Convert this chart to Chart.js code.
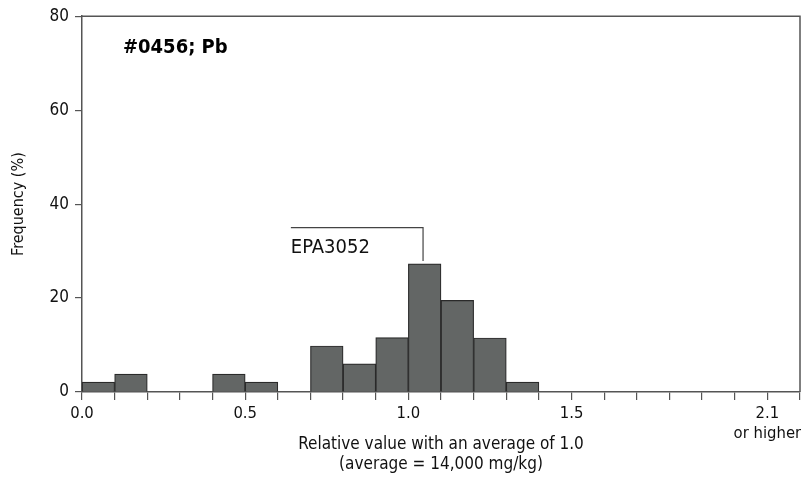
<!DOCTYPE html>
<html>
<head>
<meta charset="utf-8">
<script src="https://cdn.jsdelivr.net/npm/chart.js@4"></script>
<style>
  html, body { margin: 0; padding: 0; background: #fff; }
  #wrap { width: 801px; height: 483px; position: relative; }
</style>
</head>
<body>
<div id="wrap"><canvas id="chart"></canvas></div>
<script>
// bin centres (relative value, bins of 0.1) and frequency in %
const binCenters = [0.05, 0.15, 0.25, 0.35, 0.45, 0.55, 0.65, 0.75, 0.85, 0.95, 1.05, 1.15, 1.25, 1.35];
const frequency  = [2.1, 3.8, 0, 0, 3.8, 2.1, 0, 9.8, 6.0, 11.6, 27.3, 19.5, 11.5, 2.1];
const xLabelValues = [0.0, 0.5, 1.0, 1.5, 2.1];
const yTicks = [0, 20, 40, 60, 80];
const chartTitle = "#0456; Pb";
const methodLabel = "EPA3052";
const methodArrow = { xFrom: 0.64, xTo: 1.045, y: 35, yEnd: 27.9 };

const FONT = "'Liberation Sans Narrow', 'DejaVu Sans Condensed', sans-serif";
const AXIS = "#555";

const frame = {
  id: "frame",
  afterDraw(chart) {
    const { ctx, chartArea: a, scales } = chart;
    ctx.save();
    ctx.strokeStyle = AXIS;
    ctx.lineWidth = 1.5;
    ctx.beginPath();
    ctx.moveTo(a.left, a.top);
    ctx.lineTo(a.right, a.top);
    ctx.lineTo(a.right, a.bottom);
    ctx.stroke();

    // title
    ctx.fillStyle = "#000";
    ctx.font = "bold 20px " + FONT;
    ctx.textBaseline = "alphabetic";
    ctx.fillText(chartTitle, 123, 53);

    // method annotation
    const x = scales.x, y = scales.y;
    ctx.strokeStyle = "#444";
    ctx.lineWidth = 1.2;
    ctx.beginPath();
    ctx.moveTo(x.getPixelForValue(methodArrow.xFrom), y.getPixelForValue(methodArrow.y));
    ctx.lineTo(x.getPixelForValue(methodArrow.xTo), y.getPixelForValue(methodArrow.y));
    ctx.lineTo(x.getPixelForValue(methodArrow.xTo), y.getPixelForValue(methodArrow.yEnd));
    ctx.stroke();
    ctx.font = "20px " + FONT;
    ctx.fillStyle = "#111";
    ctx.fillText(methodLabel, x.getPixelForValue(methodArrow.xFrom), 253);
    ctx.restore();
  }
};

new Chart(document.getElementById("chart"), {
  type: "bar",
  data: {
    datasets: [{
      data: binCenters.map((c, i) => ({ x: c, y: frequency[i] })),
      backgroundColor: "#636665",
      borderColor: "#2a2a2a",
      borderWidth: 1.2,
      borderSkipped: "bottom",
      barPercentage: 1,
      categoryPercentage: 1
    }]
  },
  options: {
    responsive: true,
    maintainAspectRatio: false,
    animation: false,
    layout: { padding: { top: 16, right: 1, left: 0, bottom: 8 } },
    plugins: { legend: { display: false }, tooltip: { enabled: false } },
    scales: {
      x: {
        type: "linear",
        offset: false,
        min: 0,
        max: 2.2,
        afterBuildTicks(s) {
          s.ticks = [];
          for (let i = 0; i <= 22; i++) s.ticks.push({ value: i / 10 });
        },
        afterFit(s) { s.height = 83; s.paddingRight = 0; },
        ticks: {
          autoSkip: false,
          maxRotation: 0,
          color: "#111",
          font: { family: FONT, size: 16.5 },
          padding: 4,
          callback(v) {
            const r = Math.round(v * 10) / 10;
            const hit = xLabelValues.find(t => Math.abs(t - r) < 1e-6);
            if (hit === undefined) return "";
            if (hit === 2.1) return ["2.1", "or higher"];
            return hit.toFixed(1);
          }
        },
        grid: { offset: false, drawOnChartArea: false, drawTicks: true, tickLength: 8, color: AXIS, lineWidth: 1.2 },
        border: { display: true, color: AXIS, width: 1.5 },
        title: {
          display: true,
          text: ["Relative value with an average of 1.0", "(average = 14,000 mg/kg)"],
          color: "#111",
          font: { family: FONT, size: 17 },
          padding: { top: 4, bottom: 0 }
        }
      },
      y: {
        min: 0,
        max: 80,
        afterBuildTicks(s) { s.ticks = yTicks.map(v => ({ value: v })); },
        afterFit(s) { s.width = 82; },
        ticks: { color: "#111", font: { family: FONT, size: 17 }, padding: 6 },
        grid: { drawOnChartArea: false, drawTicks: true, tickLength: 7, color: AXIS, lineWidth: 1.2 },
        border: { display: true, color: AXIS, width: 1.5 },
        title: {
          display: true,
          text: "Frequency (%)",
          color: "#111",
          font: { family: FONT, size: 16 },
          padding: { top: 9, bottom: 10 }
        }
      }
    }
  },
  plugins: [frame]
});
</script>
</body>
</html>
